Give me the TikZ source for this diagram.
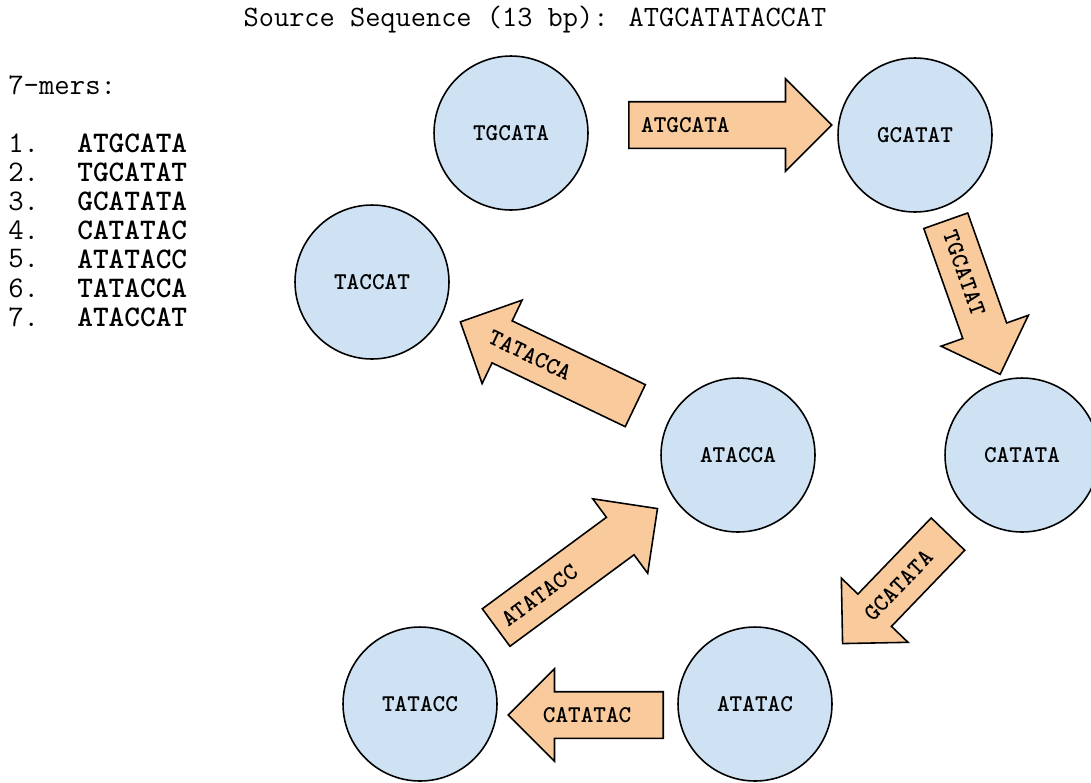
\documentclass[tikz,border=0pt]{standalone}
\usepackage{fontspec}
\usetikzlibrary{shapes.arrows,calc}
\definecolor{kmerblue}{HTML}{CFE2F3}
\definecolor{arroworange}{HTML}{F9CB9C}
\begin{document}
\begin{tikzpicture}[x=0.02cm, y=-0.02cm,
        kmer/.style={circle, draw, line width=0.9pt, fill=kmerblue,
            minimum size=3.08cm, inner sep=0pt,
            font=\ttfamily\bfseries\fontsize{13.7}{16}\selectfont},
        fatarrow/.style={single arrow, draw, line width=0.9pt, fill=arroworange,
            inner xsep=0pt, inner ysep=0.45cm, single arrow head extend=0.46cm,
            anchor=tail},
        arrowlabel/.style={font=\ttfamily\bfseries\fontsize{13.7}{16}\selectfont},
        listtext/.style={anchor=west, inner sep=0pt,
            font=\ttfamily\fontsize{17}{20}\selectfont}]
    \useasboundingbox (0,0) rectangle (1091,782);
    \node[font=\ttfamily\fontsize{16.8}{20}\selectfont] (title) at (535,20)
        {Source Sequence (13 bp): ATGCATATACCAT};
    \node[listtext] (mers) at (8,85) {7-mers:};
    \foreach \seq [count=\i] in {ATGCATA,TGCATAT,GCATATA,CATATAC,ATATACC,TATACCA,ATACCAT} {
        \node[listtext] (num\i) at (8,{114+29*\i}) {\i.};
        \node[listtext, font=\ttfamily\bfseries\fontsize{17}{20}\selectfont] (seq\i)
            at (77,{114+29*\i}) {\seq};
    }
    \node[kmer] (TGCATA) at (511,133) {TGCATA};
    \node[kmer] (GCATAT) at (915,135) {GCATAT};
    \node[kmer] (CATATA) at (1022,455) {CATATA};
    \node[kmer] (ATATAC) at (755,704) {ATATAC};
    \node[kmer] (TATACC) at (420,704) {TATACC};
    \node[kmer] (ATACCA) at (738,455) {ATACCA};
    \node[kmer] (TACCAT) at (372,282) {TACCAT};
    \node[fatarrow, minimum height=4.06cm] (e1) at (628,125) {};
    \node[fatarrow, minimum height=3.26cm, rotate=-70.5] (e2) at (945.5,220) {};
    \node[fatarrow, minimum height=3.04cm, rotate=226.1] (e3) at (948.5,533.5) {};
    \node[fatarrow, minimum height=3.1cm, rotate=180] (e4) at (664,715) {};
    \node[fatarrow, minimum height=4.01cm, rotate=36.4] (e5) at (495.5,628) {};
    \node[fatarrow, minimum height=3.88cm, rotate=154.4] (e6) at (636,406) {};
    \node[arrowlabel] (l1) at ($(e1.tail)!0.28!(e1.tip)$) {ATGCATA};
    \node[arrowlabel, rotate=-70.5] (l2) at ($(e2.tail)!0.34!(e2.tip)$) {TGCATAT};
    \node[arrowlabel, rotate=46.1] (l3) at ($(e3.tail)!0.47!(e3.tip)$) {GCATATA};
    \node[arrowlabel] (l4) at ($(e4.tail)!0.49!(e4.tip)$) {CATATAC};
    \node[arrowlabel, rotate=36.4] (l5) at ($(e5.tail)!0.27!(e5.tip)$) {ATATACC};
    \node[arrowlabel, rotate=-25.6] (l6) at ($(e6.tail)!0.6!(e6.tip)$) {TATACCA};
\end{tikzpicture}
\end{document}
